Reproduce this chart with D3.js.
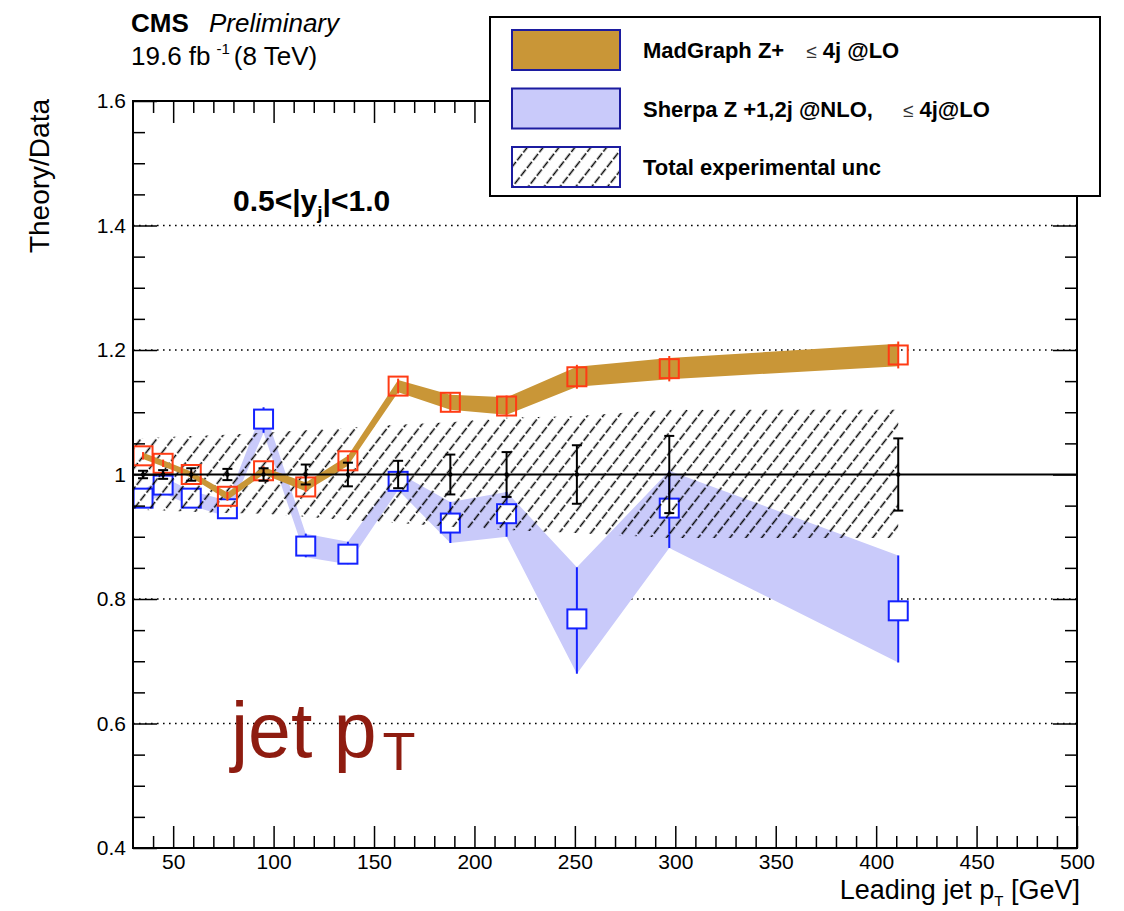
<!DOCTYPE html>
<html>
<head>
<meta charset="utf-8">
<script src="https://cdn.jsdelivr.net/npm/d3@7"></script>
<style>
  body { margin: 0; background: #fff; }
  svg { display: block; }
  text { font-family: "Liberation Sans", Arial, Helvetica, sans-serif; }
</style>
</head>
<body>
<svg id="chart" width="1124" height="911"></svg>
<script>
// Leading-jet pT points (GeV) of the |y| 0.5-1.0 bin
const ptPoints = [35, 45, 59, 77, 95, 116, 137, 162, 188, 216, 251, 297, 411];

// MadGraph Z + <=4j @LO, ratio to data and half-width of its band
const madgraphRatio = [1.030, 1.018, 1.000, 0.965, 1.006, 0.980, 1.022, 1.142, 1.116, 1.110, 1.157, 1.170, 1.192];
const madgraphUnc   = [0.005, 0.005, 0.005, 0.006, 0.006, 0.007, 0.008, 0.010, 0.012, 0.014, 0.016, 0.017, 0.018];

// Sherpa Z +1,2j @NLO, <=4j @LO, ratio to data and its band edges
const sherpaRatio = [0.962, 0.983, 0.962, 0.945, 1.089, 0.885, 0.872, 0.989, 0.922, 0.937, 0.768, 0.946, 0.781];
const sherpaLow   = [0.950, 0.970, 0.950, 0.932, 1.067, 0.867, 0.856, 0.975, 0.890, 0.900, 0.680, 0.882, 0.698];
const sherpaHigh  = [0.975, 0.996, 0.974, 0.958, 1.108, 0.905, 0.892, 1.003, 0.956, 0.972, 0.851, 1.006, 0.870];

// Data (ratio 1) statistical error and total experimental uncertainty band
const dataStatErr = [0.006, 0.007, 0.010, 0.009, 0.010, 0.016, 0.019, 0.022, 0.032, 0.036, 0.047, 0.062, 0.058];
const expUncLow   = [0.943, 0.942, 0.940, 0.938, 0.937, 0.932, 0.927, 0.922, 0.916, 0.911, 0.906, 0.898, 0.898];
const expUncHigh  = [1.058, 1.060, 1.062, 1.064, 1.067, 1.071, 1.075, 1.080, 1.084, 1.091, 1.094, 1.104, 1.104];

// Axis ticks
const xMajorTicks = [50, 100, 150, 200, 250, 300, 350, 400, 450, 500];
const xMinorTicks = d3.range(40, 500, 10).filter(v => v % 50 !== 0);
const yMajorTicks = [0.4, 0.6, 0.8, 1.0, 1.2, 1.4, 1.6];
const yMinorTicks = d3.range(0.45, 1.6, 0.05).map(v => +v.toFixed(2)).filter(v => Math.abs(v * 5 - Math.round(v * 5)) > 1e-6);
const gridLevels = [0.6, 0.8, 1.2, 1.4];

const legendEntries = [
  { key: "madgraph", parts: [["MadGraph Z+", "bold", 0], ["\u2264", "normal", 22], [" 4j @LO", "bold", 0]] },
  { key: "sherpa",   parts: [["Sherpa Z +1,2j @NLO,", "bold", 0], ["\u2264", "normal", 30], [" 4j@LO", "bold", 0]] },
  { key: "exp",      parts: [["Total experimental unc", "bold", 0]] }
];

const colors = {
  gold: "#c99637",
  lavender: "#c9cafa",
  red: "#ff3b14",
  blue: "#1422ff",
  swatchEdge: "#1c1ca0",
  jetLabel: "#8e1c10"
};

const x = d3.scaleLinear().domain([30, 500]).range([133, 1077]);
const y = d3.scaleLinear().domain([0.4, 1.6]).range([848, 101]);
const [xl, xr] = x.range();
const [yb, yt] = y.range();

const svg = d3.select("#chart");
svg.append("rect").attr("width", 1124).attr("height", 911).attr("fill", "#fff");

const defs = svg.append("defs");
// Diagonal dashed hatch for the experimental uncertainty
const hatch = defs.append("pattern")
  .attr("id", "hatch")
  .attr("patternUnits", "userSpaceOnUse")
  .attr("width", 12.5).attr("height", 20)
  .attr("patternTransform", "rotate(38)");
hatch.append("line")
  .attr("x1", 6.25).attr("x2", 6.25).attr("y1", 0).attr("y2", 20)
  .attr("stroke", "#000").attr("stroke-width", 1.5)
  .attr("stroke-dasharray", "8,2");

const idx = d3.range(ptPoints.length);
const plot = svg.append("g");

// Dotted horizontal grid
plot.append("g").selectAll("line").data(gridLevels).join("line")
  .attr("x1", xl).attr("x2", xr)
  .attr("y1", d => y(d)).attr("y2", d => y(d))
  .attr("stroke", "#000").attr("stroke-width", 1.6)
  .attr("stroke-dasharray", "1.6,4.4");

// Sherpa band
const sherpaArea = d3.area()
  .x(i => x(ptPoints[i]))
  .y0(i => y(sherpaLow[i]))
  .y1(i => y(sherpaHigh[i]));
plot.append("path").attr("d", sherpaArea(idx)).attr("fill", colors.lavender);

// Sherpa error bars and open squares
plot.append("g").selectAll("line").data(idx).join("line")
  .attr("x1", i => x(ptPoints[i])).attr("x2", i => x(ptPoints[i]))
  .attr("y1", i => y(sherpaLow[i])).attr("y2", i => y(sherpaHigh[i]))
  .attr("stroke", colors.blue).attr("stroke-width", 2);
const sq = 19;
plot.append("g").selectAll("rect").data(idx).join("rect")
  .attr("x", i => x(ptPoints[i]) - sq / 2)
  .attr("y", i => y(sherpaRatio[i]) - sq / 2)
  .attr("width", sq).attr("height", sq)
  .attr("fill", "#fff").attr("stroke", colors.blue).attr("stroke-width", 2);

// Total experimental uncertainty (hatched)
const expArea = d3.area()
  .x(i => i < 0 ? xl : x(ptPoints[i]))
  .y0(i => y(expUncLow[Math.max(i, 0)]))
  .y1(i => y(expUncHigh[Math.max(i, 0)]));
plot.append("path").attr("d", expArea([-1, ...idx])).attr("fill", "url(#hatch)");

// MadGraph band
const mgArea = d3.area()
  .x(i => x(ptPoints[i]))
  .y0(i => y(madgraphRatio[i] - madgraphUnc[i]))
  .y1(i => y(madgraphRatio[i] + madgraphUnc[i]));
plot.append("path").attr("d", mgArea(idx)).attr("fill", colors.gold);

plot.append("g").selectAll("line").data(idx).join("line")
  .attr("x1", i => x(ptPoints[i])).attr("x2", i => x(ptPoints[i]))
  .attr("y1", i => y(madgraphRatio[i] - madgraphUnc[i] * 1.2))
  .attr("y2", i => y(madgraphRatio[i] + madgraphUnc[i] * 1.2))
  .attr("stroke", colors.red).attr("stroke-width", 2);
plot.append("g").selectAll("rect").data(idx).join("rect")
  .attr("x", i => x(ptPoints[i]) - sq / 2)
  .attr("y", i => y(madgraphRatio[i]) - sq / 2)
  .attr("width", sq).attr("height", sq)
  .attr("fill", "none").attr("stroke", colors.red).attr("stroke-width", 2);

// Data line at ratio 1 with statistical error bars
plot.append("line")
  .attr("x1", xl).attr("x2", xr).attr("y1", y(1)).attr("y2", y(1))
  .attr("stroke", "#000").attr("stroke-width", 2);
const errG = plot.append("g").attr("stroke", "#000").attr("stroke-width", 2);
idx.forEach(i => {
  const cx = x(ptPoints[i]);
  const top = y(1 + dataStatErr[i]), bot = y(1 - dataStatErr[i]);
  errG.append("line").attr("x1", cx).attr("x2", cx).attr("y1", top).attr("y2", bot);
  errG.append("line").attr("x1", cx - 5).attr("x2", cx + 5).attr("y1", top).attr("y2", top);
  errG.append("line").attr("x1", cx - 5).attr("x2", cx + 5).attr("y1", bot).attr("y2", bot);
});
plot.append("g").selectAll("circle").data(idx).join("circle")
  .attr("cx", i => x(ptPoints[i])).attr("cy", y(1)).attr("r", 2.2).attr("fill", "#000");

// Axes: ticks point inwards on all four sides
const axisFont = g => g.selectAll("text")
  .attr("font-family", "'Liberation Sans', Arial, sans-serif")
  .attr("font-size", 21).attr("fill", "#000");
const noDomain = g => g.select(".domain").remove();
const tickStroke = g => g.selectAll("line").attr("stroke-width", 1.5);

svg.append("g").attr("transform", `translate(0,${yb})`)
  .call(d3.axisBottom(x).tickValues(xMajorTicks).tickSize(-22).tickPadding(6).tickFormat(d3.format("d")))
  .call(noDomain).call(axisFont).call(tickStroke);
svg.append("g").attr("transform", `translate(0,${yb})`)
  .call(d3.axisBottom(x).tickValues(xMinorTicks).tickSize(-12).tickFormat(""))
  .call(noDomain).call(tickStroke);
svg.append("g").attr("transform", `translate(0,${yt})`)
  .call(d3.axisTop(x).tickValues(xMajorTicks).tickSize(-22).tickFormat(""))
  .call(noDomain).call(tickStroke);
svg.append("g").attr("transform", `translate(0,${yt})`)
  .call(d3.axisTop(x).tickValues(xMinorTicks).tickSize(-12).tickFormat(""))
  .call(noDomain).call(tickStroke);

svg.append("g").attr("transform", `translate(${xl},0)`)
  .call(d3.axisLeft(y).tickValues(yMajorTicks).tickSize(-24).tickPadding(7)
    .tickFormat(d => d === 1 ? "1" : d.toFixed(1)))
  .call(noDomain).call(axisFont).call(tickStroke);
svg.append("g").attr("transform", `translate(${xl},0)`)
  .call(d3.axisLeft(y).tickValues(yMinorTicks).tickSize(-12).tickFormat(""))
  .call(noDomain).call(tickStroke);
svg.append("g").attr("transform", `translate(${xr},0)`)
  .call(d3.axisRight(y).tickValues(yMajorTicks).tickSize(-24).tickFormat(""))
  .call(noDomain).call(tickStroke);
svg.append("g").attr("transform", `translate(${xr},0)`)
  .call(d3.axisRight(y).tickValues(yMinorTicks).tickSize(-12).tickFormat(""))
  .call(noDomain).call(tickStroke);

svg.append("rect")
  .attr("x", xl).attr("y", yt).attr("width", xr - xl).attr("height", yb - yt)
  .attr("fill", "none").attr("stroke", "#000").attr("stroke-width", 2);

// Axis titles
const xTitle = svg.append("text")
  .attr("x", 1080).attr("y", 899).attr("text-anchor", "end").attr("font-size", 27);
xTitle.append("tspan").text("Leading jet p");
xTitle.append("tspan").attr("font-size", 15).attr("dy", 7).text("T");
xTitle.append("tspan").attr("dy", -7).text("  [GeV]");

svg.append("text")
  .attr("transform", "translate(49,99) rotate(-90)")
  .attr("text-anchor", "end").attr("font-size", 28).text("Theory/Data");

// Header
svg.append("text").attr("x", 131).attr("y", 32).attr("font-size", 26)
  .attr("font-weight", "bold").text("CMS");
svg.append("text").attr("x", 209).attr("y", 32).attr("font-size", 26)
  .attr("font-style", "italic").text("Preliminary");
const lumi = svg.append("text").attr("x", 131).attr("y", 65).attr("font-size", 26);
lumi.append("tspan").text("19.6 fb");
lumi.append("tspan").attr("dx", 6).attr("dy", -11).attr("font-size", 15).text("-1");
lumi.append("tspan").attr("dx", 4).attr("dy", 11).text("(8 TeV)");

// Rapidity bin label
const yBin = svg.append("text").attr("x", 233).attr("y", 211)
  .attr("font-size", 30).attr("font-weight", "bold");
yBin.append("tspan").text("0.5<|y");
yBin.append("tspan").attr("dy", 8).attr("font-size", 19).text("j");
yBin.append("tspan").attr("dy", -8).text("|<1.0");

// Observable label
const jet = svg.append("text").attr("x", 231).attr("y", 757)
  .attr("font-size", 77).attr("fill", colors.jetLabel);
jet.append("tspan").text("jet p");
jet.append("tspan").attr("dx", 6).attr("dy", 13).attr("font-size", 54).text("T");

// Legend
const lg = svg.append("g");
lg.append("rect").attr("x", 490).attr("y", 17).attr("width", 610).attr("height", 179)
  .attr("fill", "#fff").attr("stroke", "#000").attr("stroke-width", 2);
const swatchFill = { madgraph: colors.gold, sherpa: colors.lavender, exp: "url(#hatch)" };
legendEntries.forEach((e, k) => {
  const top = 30 + k * 58.5;
  lg.append("rect").attr("x", 512).attr("y", top).attr("width", 108).attr("height", 40)
    .attr("fill", swatchFill[e.key]).attr("stroke", colors.swatchEdge).attr("stroke-width", 2);
  const t = lg.append("text").attr("x", 643).attr("y", top + 28).attr("font-size", 22);
  e.parts.forEach(([s, w, dx]) => {
    t.append("tspan").attr("font-weight", w).attr("dx", dx)
      .attr("font-size", w === "normal" ? 19 : 22).attr("fill", w === "normal" ? "#333" : "#000")
      .text(s);
  });
});
</script>
</body>
</html>
